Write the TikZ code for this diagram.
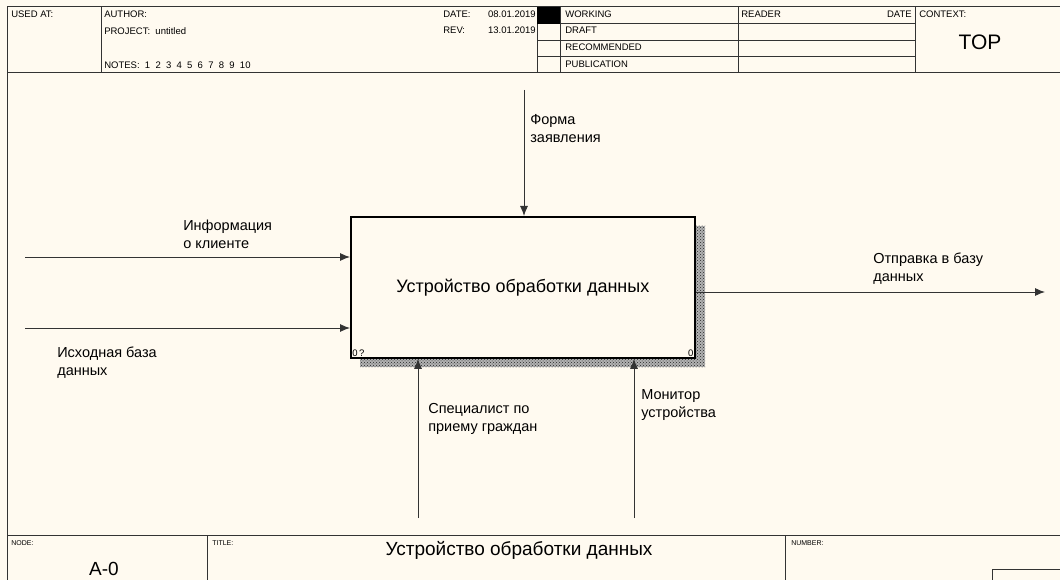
\documentclass[tikz,border=0pt]{standalone}
\usepackage{fontspec}
\setmainfont{Liberation Sans}
\usepackage{tikz}
\usetikzlibrary{arrows.meta,patterns,positioning}
\definecolor{paper}{RGB}{255,250,240}

\begin{document}
\begin{tikzpicture}[x=1pt,y=-1pt,>={Latex[length=10pt,width=8pt]},semithick,
  frame/.style={draw=black!80,line width=1pt},
  hdr/.style={inner sep=0pt,anchor=north west,font=\fontsize{9.5}{11}\selectfont},
  foot/.style={inner sep=0pt,anchor=north west,font=\fontsize{7}{8}\selectfont},
  lbl/.style={inner sep=0pt,anchor=north west,align=left,font=\fontsize{14.5}{18}\selectfont},
  shade/.style={fill=black!30,postaction={pattern=crosshatch dots,pattern color=black!85}},
  flow/.style={->,line width=0.9pt,black!80}]
\useasboundingbox[fill=paper] (0,0) rectangle (1060,580);

% form frame
\draw[frame] (7,580) -- (7,7) -- (1060,7);
\draw[frame] (7,73) -- (1060,73);
\draw[frame] (101,7) -- (101,73);
\draw[frame] (537,7) -- (537,73);
\draw[frame] (560,7) -- (560,73);
\draw[frame] (738,7) -- (738,73);
\draw[frame] (915,7) -- (915,73);
\foreach \y in {24,41,57}
  \draw[frame] (537,\y) -- (915,\y);
\fill[black] (537,7) rectangle (560,24);
\draw[frame] (7,535) -- (1060,535);
\draw[frame] (207,535) -- (207,580);
\draw[frame] (785,535) -- (785,580);
\draw[frame] (992,580) -- (992,569) -- (1060,569);

% header texts
\node[hdr] (used) at (11,11) {USED AT:};
\node[hdr] (author) at (104,11) {AUTHOR:};
\node[hdr] (project) at (104,27) {PROJECT:\ \ untitled};
\node[hdr] (notes) at (104,62) {NOTES:\ \ 1\ \ 2\ \ 3\ \ 4\ \ 5\ \ 6\ \ 7\ \ 8\ \ 9\ \ 10};
\node[hdr] (date) at (443,11) {DATE:};
\node[hdr,anchor=north east] (dateval) at (536,11) {08.01.2019};
\node[hdr] (rev) at (443,27) {REV:};
\node[hdr,anchor=north east] (revval) at (536,27) {13.01.2019};
\node[hdr] (working) at (565,11) {WORKING};
\node[hdr] (draft) at (565,27) {DRAFT};
\node[hdr] (recom) at (565,44) {RECOMMENDED};
\node[hdr] (publ) at (565,61) {PUBLICATION};
\node[hdr] (reader) at (741,11) {READER};
\node[hdr,anchor=north east] (rdate) at (912,11) {DATE};
\node[hdr] (context) at (919,11) {CONTEXT:};
\node[font=\fontsize{21}{24}\selectfont] (top) at (980,42) {TOP};

% footer texts
\node[foot] (nodehdr) at (11,540) {NODE:};
\node[font=\fontsize{19}{21}\selectfont] (nodeno) at (104,569) {A-0};
\node[foot] (titlehdr) at (212,540) {TITLE:};
\node[font=\fontsize{19}{21}\selectfont] (title) at (519,550) {Устройство обработки данных};
\node[foot] (numhdr) at (791,540) {NUMBER:};

% activity box with shadow
\fill[shade] (694,226) rectangle (705,367);
\fill[shade] (360,357) rectangle (694,367);
\node[draw,line width=1.8pt,fill=paper,minimum width=344pt,minimum height=141pt,
  font=\fontsize{18}{21}\selectfont,anchor=north west,inner sep=0pt] (act) at (350,216)
  {Устройство обработки данных};
\node[inner sep=2pt,anchor=south west,font=\fontsize{9.5}{10}\selectfont] (cost) at (act.south west) {0\,?};
\node[inner sep=2pt,anchor=south east,font=\fontsize{9.5}{10}\selectfont] (num) at (act.south east) {0};

% arrow ends
\coordinate (ctl) at (524,90);
\coordinate (in1) at (25,257);
\coordinate (in2) at (25,328);
\coordinate (out) at (1045,292);
\coordinate (mec1) at (418,518);
\coordinate (mec2) at (634,518);

\draw[flow] (ctl) -- (ctl |- act.north);
\draw[flow] (in1) -- (in1 -| act.west);
\draw[flow] (in2) -- (in2 -| act.west);
\draw[flow] (out -| act.east) -- (out);
\draw[flow] (mec1) -- (mec1 |- act.south);
\draw[flow] (mec2) -- (mec2 |- act.south);

% arrow labels
\node[lbl] (lctl) at (530,114) {Форма\\заявления};
\node[lbl] (lin1) at (183,220) {Информация\\о клиенте};
\node[lbl] (lin2) at (57,347) {Исходная база\\данных};
\node[lbl] (lout) at (873,253) {Отправка в базу\\данных};
\node[lbl] (lmec1) at (428,403) {Специалист по\\приему граждан};
\node[lbl] (lmec2) at (641,389) {Монитор\\устройства};
\end{tikzpicture}
\end{document}
